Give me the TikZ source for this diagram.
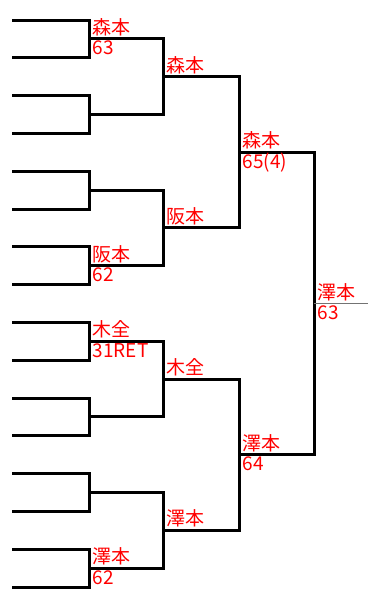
\documentclass[tikz,border=0pt]{standalone}
\usepackage{fontspec}
\newfontfamily\jpfont{Noto Sans CJK JP}
\begin{document}
\begin{tikzpicture}[x=1pt,y=-1pt,
  br/.style={draw=black,line width=3pt,line join=miter,line cap=rect},
  fin/.style={draw=black!55,line width=1pt},
  nm/.style={anchor=base west,inner sep=0pt,text=red,font=\jpfont\fontsize{19}{19}\selectfont},
  sc/.style={anchor=base west,inner sep=0pt,text=red,font=\jpfont\fontsize{19}{19}\selectfont}]
\useasboundingbox (0,0) rectangle (368,597);
% entries
\foreach \i in {1,...,16}{
  \coordinate (e\i) at (13,{20+37.8*(\i-1)});
}
% round 2 junctions
\foreach \k in {1,...,8}{
  \pgfmathtruncatemacro{\a}{2*\k-1}
  \pgfmathtruncatemacro{\b}{2*\k}
  \coordinate (m2\k) at (89,{20+37.8*(2*\k-2)+18.9});
  \draw[br] (e\a) -| (m2\k) |- (e\b);
}
% round 3 junctions
\foreach \k in {1,...,4}{
  \pgfmathtruncatemacro{\a}{2*\k-1}
  \pgfmathtruncatemacro{\b}{2*\k}
  \coordinate (m3\k) at (163,{20+37.8*(4*\k-4)+56.7});
  \draw[br] (m2\a) -| (m3\k) |- (m2\b);
}
% round 4 junctions
\foreach \k in {1,2}{
  \pgfmathtruncatemacro{\a}{2*\k-1}
  \pgfmathtruncatemacro{\b}{2*\k}
  \coordinate (m4\k) at (239,{20+37.8*(8*\k-8)+132.3});
  \draw[br] (m3\a) -| (m4\k) |- (m3\b);
}
\coordinate (m5) at (314,{20+283.5});
\draw[br] (m41) -| (m5) |- (m42);
\coordinate (end) at (368,{20+283.5});
\draw[fin] (m5) -- (end);
% labels round 2
\node[nm] (n21) at ([shift={(3.5,-4.5)}]m21) {森本};
\node[sc] (s21) at ([shift={(3.5,16)}]m21) {63};
\node[nm] (n24) at ([shift={(3.5,-4.5)}]m24) {阪本};
\node[sc] (s24) at ([shift={(3.5,16)}]m24) {62};
\node[nm] (n25) at ([shift={(3.5,-4.5)}]m25) {木全};
\node[sc] (s25) at ([shift={(3.5,16)}]m25) {31RET};
\node[nm] (n28) at ([shift={(3.5,-4.5)}]m28) {澤本};
\node[sc] (s28) at ([shift={(3.5,16)}]m28) {62};
% round 3
\node[nm] (n31) at ([shift={(3.5,-4.5)}]m31) {森本};
\node[nm] (n32) at ([shift={(3.5,-4.5)}]m32) {阪本};
\node[nm] (n33) at ([shift={(3.5,-4.5)}]m33) {木全};
\node[nm] (n34) at ([shift={(3.5,-4.5)}]m34) {澤本};
% round 4
\node[nm] (n41) at ([shift={(3.5,-4.5)}]m41) {森本};
\node[sc] (s41) at ([shift={(3.5,16)}]m41) {65(4)};
\node[nm] (n42) at ([shift={(3.5,-4.5)}]m42) {澤本};
\node[sc] (s42) at ([shift={(3.5,16)}]m42) {64};
% final
\node[nm] (n5) at ([shift={(3.5,-4.5)}]m5) {澤本};
\node[sc] (s5) at ([shift={(3.5,16)}]m5) {63};
\end{tikzpicture}
\end{document}
